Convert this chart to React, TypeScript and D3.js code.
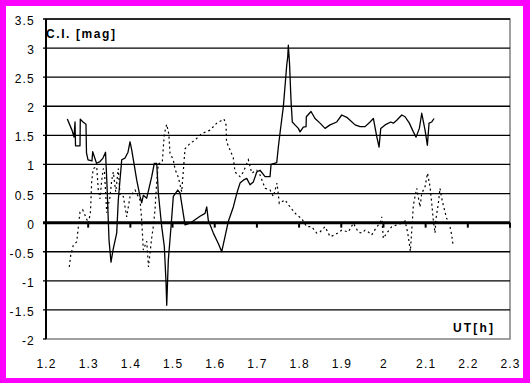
import React from 'react';
import * as d3 from 'd3';

const solidUT = [1.2505,1.2616,1.2664,1.2688,1.270,1.2806,1.2813,1.2877,1.2948,1.296,1.2996,1.309,1.3107,1.3197,1.328,1.3351,1.3411,1.3446,1.3494,1.3541,1.3589,1.3676,1.3714,1.3795,1.3873,1.3944,1.3992,1.4032,1.4151,1.4229,1.4269,1.4307,1.4388,1.4506,1.4568,1.4625,1.4663,1.4743,1.4805,1.4845,1.4862,1.49,1.4964,1.5018,1.5123,1.5177,1.5296,1.5414,1.5651,1.577,1.581,1.5848,1.5967,1.6085,1.6166,1.6244,1.6322,1.6441,1.6522,1.66,1.6678,1.6759,1.6837,1.6915,1.6996,1.7074,1.7193,1.7311,1.7335,1.747,1.7508,1.7548,1.7626,1.7683,1.7707,1.7731,1.7745,1.7773,1.7808,1.7839,1.7902,1.7982,1.8022,1.81,1.8165,1.8172,1.8283,1.8378,1.8496,1.8615,1.8734,1.8893,1.9011,1.913,1.9208,1.9327,1.9445,1.9564,1.9682,1.9761,1.9841,1.9896,1.9936,2.0038,2.0173,2.0235,2.0315,2.0434,2.0512,2.0614,2.0709,2.0773,2.0851,2.0908,2.0986,2.1041,2.1081,2.1145,2.12];
const solidCI = [1.78,1.59,1.47,1.73,1.32,1.32,1.78,1.73,1.69,1.20,1.08,1.06,1.22,1.02,1.05,1.11,1.21,0.65,-0.30,-0.68,-0.47,-0.18,0.39,1.08,1.11,1.21,1.39,1.25,0.73,0.45,0.34,0.47,0.42,0.79,1.02,1.02,0.51,-0.07,-0.41,-1.02,-1.42,-0.64,-0.07,0.45,0.56,0.51,-0.04,-0.01,0.11,0.16,0.27,0.04,-0.18,-0.36,-0.50,-0.24,0.02,0.27,0.50,0.68,0.73,0.76,0.65,0.70,0.87,0.90,0.79,0.79,1.00,1.03,1.30,1.54,1.99,2.49,2.71,2.85,3.05,2.74,2.11,1.73,1.68,1.62,1.56,1.64,1.65,1.82,1.91,1.79,1.71,1.62,1.68,1.73,1.85,1.81,1.76,1.68,1.65,1.65,1.73,1.79,1.48,1.30,1.62,1.68,1.73,1.71,1.76,1.85,1.82,1.71,1.56,1.47,1.62,1.88,1.59,1.33,1.71,1.73,1.79];

const dottedUT = [1.2552,1.2586,1.2647,1.2728,1.2806,1.287,1.2965,1.3008,1.3055,1.3084,1.3121,1.3202,1.324,1.328,1.3321,1.3359,1.3387,1.3439,1.3517,1.3558,1.3596,1.3653,1.3714,1.3755,1.3833,1.3913,1.3992,1.4111,1.4229,1.4269,1.4307,1.4388,1.443,1.4506,1.4544,1.4584,1.4625,1.4663,1.4757,1.4805,1.4862,1.4912,1.494,1.5018,1.5058,1.5137,1.5217,1.5248,1.5296,1.5414,1.5533,1.5692,1.5889,1.6047,1.6149,1.622,1.6268,1.628,1.6363,1.6441,1.6481,1.66,1.6678,1.6797,1.6877,1.6996,1.7074,1.7193,1.7311,1.7389,1.7477,1.7531,1.7666,1.7785,1.7944,1.8062,1.818,1.8299,1.8418,1.8496,1.8615,1.8734,1.8852,1.9011,1.9167,1.9286,1.9404,1.9485,1.9564,1.9642,1.9722,1.9824,1.9919,1.9959,1.9997,2.0078,2.0196,2.0315,2.0434,2.0512,2.0576,2.0607,2.0638,2.0671,2.0709,2.0749,2.0789,2.0867,2.0907,2.0986,2.1045,2.1104,2.1145,2.1182,2.1223,2.1246,2.1301,2.1341,2.1381,2.1418,2.1458,2.1498,2.1536,2.1578,2.1617,2.1655];
const dottedCI = [-0.76,-0.56,-0.39,-0.33,0.18,0.22,0.06,-0.01,0.19,0.72,0.93,0.96,0.56,0.41,0.73,0.93,0.87,0.17,0.44,0.73,0.87,0.53,0.93,0.47,0.45,0.10,0.45,0.56,0.39,0.04,-0.47,-0.32,-0.76,-0.26,-0.07,0.22,0.70,1.01,1.04,1.53,1.69,1.52,1.19,1.08,0.92,0.78,0.53,0.82,1.27,1.36,1.42,1.53,1.59,1.71,1.75,1.78,1.68,1.39,1.25,1.11,0.87,0.79,0.87,1.08,0.85,0.90,0.82,0.59,0.56,0.45,0.68,0.33,0.39,0.27,0.13,0.07,-0.07,-0.07,-0.18,-0.16,-0.07,-0.24,-0.21,-0.13,-0.16,-0.01,-0.16,-0.18,-0.13,-0.16,-0.21,-0.09,-0.01,0.10,-0.27,-0.18,-0.07,-0.04,-0.01,0.03,-0.18,-0.33,-0.49,-0.13,0.30,0.45,0.59,0.27,0.50,0.62,0.85,0.62,0.33,0.04,-0.18,0.07,0.33,0.59,0.42,0.30,0.19,0.07,0.04,-0.07,-0.21,-0.41];

const xTicks = [1.2,1.3,1.4,1.5,1.6,1.7,1.8,1.9,2.0,2.1,2.2,2.3];
const xTickLabels = ['1.2','1.3','1.4','1.5','1.6','1.7','1.8','1.9','2','2.1','2.2','2.3'];
const yTicks = [-2,-1.5,-1,-0.5,0,0.5,1,1.5,2,2.5,3,3.5];
const yTickLabels = ['-2','-1.5','-1','-0.5','0','0.5','1','1.5','2','2.5','3','3.5'];
const yTitle = 'C.I. [mag]';
const xTitle = 'UT[h]';

export default function App() {
  const W = 530, H = 383;
  const left = 46, right = 510, top = 19, bottom = 339;
  const x = d3.scaleLinear().domain([1.2, 2.3]).range([left, right]);
  const y = d3.scaleLinear().domain([-2, 3.5]).range([bottom, top]);
  const line = d3.line<[number, number]>().x(d => x(d[0])).y(d => y(d[1]));
  const solidPts: [number, number][] = solidUT.map((u, i) => [u, solidCI[i]]);
  const dottedPts: [number, number][] = dottedUT.map((u, i) => [u, dottedCI[i]]);
  const font = "Arial, 'Liberation Sans', sans-serif";

  return (
    <svg width={W} height={H} style={{ position: 'absolute', left: 0, top: 0 }}>
      <rect x={0} y={0} width={W} height={H} fill="#ff00ff" />
      <rect x={6} y={6} width={517} height={372} fill="#ffffff" />
      {/* plot border */}
      <rect x={left} y={top} width={right - left} height={bottom - top} fill="none" stroke="#808080" strokeWidth={1.5} />
      {/* gridlines */}
      {yTicks.map((t, i) => (
        t === 0 || t === -2 ? null :
        <line key={'g' + i} x1={left - 3} x2={right} y1={y(t)} y2={y(t)} stroke="#000" strokeWidth={1.3} />
      ))}
      <line x1={left - 3} x2={left} y1={y(-2)} y2={y(-2)} stroke="#000" strokeWidth={1.3} />
      {/* y axis */}
      <line x1={left} x2={left} y1={top} y2={bottom} stroke="#000" strokeWidth={2} />
      {/* zero axis */}
      <line x1={left - 3} x2={right} y1={y(0)} y2={y(0)} stroke="#000" strokeWidth={3} />
      {xTicks.map((t, i) => (
        <line key={'xt' + i} x1={x(t)} x2={x(t)} y1={y(0)} y2={y(0) + 5} stroke="#000" strokeWidth={2} />
      ))}
      {/* series */}
      <path d={line(dottedPts) || ''} fill="none" stroke="#000" strokeWidth={1.2} strokeDasharray="2 3" />
      <path d={line(solidPts) || ''} fill="none" stroke="#000" strokeWidth={1.3} strokeLinejoin="round" />
      {/* tick labels */}
      {yTicks.map((t, i) => (
        <text key={'yl' + i} x={35} y={y(t) + 6} textAnchor="end" fontFamily={font} fontSize={12} letterSpacing={1.2} fill="#000">{yTickLabels[i]}</text>
      ))}
      {xTicks.map((t, i) => (
        <text key={'xl' + i} x={x(t) + 0.6} y={368} textAnchor="middle" fontFamily={font} fontSize={12} letterSpacing={1.2} fill="#000">{xTickLabels[i]}</text>
      ))}
      <text x={46} y={38} fontFamily={font} fontSize={12} fontWeight="bold" textLength={69} lengthAdjust="spacing" fill="#000">{yTitle}</text>
      <text x={453} y={332} fontFamily={font} fontSize={12} fontWeight="bold" textLength={40} lengthAdjust="spacing" fill="#000">{xTitle}</text>
    </svg>
  );
}
